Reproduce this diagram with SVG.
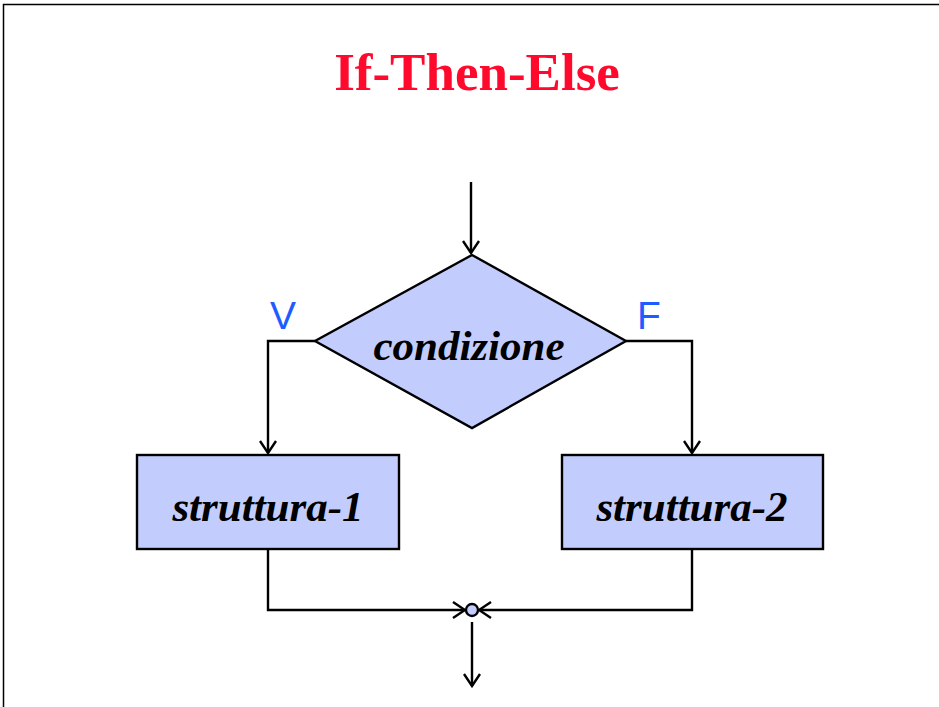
<svg xmlns="http://www.w3.org/2000/svg" width="939" height="707" viewBox="0 0 939 707">
  <style>
    .shape { fill: #c3cdfd; stroke: #000; stroke-width: 2.4; }
    .lbl { font-family: "Liberation Serif", "Times New Roman", serif; font-weight: bold; font-style: italic; font-size: 43px; fill: #000; text-anchor: middle; }
    .vf { font-family: "Liberation Sans", Arial, sans-serif; font-size: 39px; fill: #1f5cff; text-anchor: middle; }
    .conn { fill: none; stroke: #000; stroke-width: 2.4; }
  </style>
  <defs>
    <marker id="arr" markerUnits="userSpaceOnUse" markerWidth="16" markerHeight="20" viewBox="0 0 16 20" refX="14" refY="10" orient="auto">
      <path d="M2,2 L14,10 L2,18" fill="none" stroke="#000" stroke-width="2.4"/>
    </marker>
  </defs>
  <rect width="939" height="707" fill="#fff"/>
  <path d="M3.5,707 V4.5 H939" fill="none" stroke="#000" stroke-width="1.5"/>
  <text x="477" y="90" font-family="Liberation Serif, 'Times New Roman', serif" font-weight="bold" font-size="53" fill="#ff0a2d" text-anchor="middle">If-Then-Else</text>

  <g id="connectors">
    <path class="conn" d="M471,182 V253" marker-end="url(#arr)"/>
    <path class="conn" d="M315,341 H268 V453" marker-end="url(#arr)"/>
    <path class="conn" d="M626,341 H692 V453" marker-end="url(#arr)"/>
    <path class="conn" d="M268,549 V610 H465" marker-end="url(#arr)"/>
    <path class="conn" d="M692,549 V610 H479" marker-end="url(#arr)"/>
    <path class="conn" d="M472,622 V686" marker-end="url(#arr)"/>
  </g>

  <g id="labels">
    <text class="vf" x="283" y="329">V</text>
    <text class="vf" x="649" y="329">F</text>
  </g>

  <g id="condizione">
    <polygon class="shape" points="472,255 626,341 472,428 315,341"/>
    <text class="lbl" x="469" y="360">condizione</text>
  </g>

  <g id="struttura-1">
    <rect class="shape" x="137" y="455" width="262" height="94"/>
    <text class="lbl" x="268" y="521">struttura-1</text>
  </g>

  <g id="struttura-2">
    <rect class="shape" x="562" y="455" width="261" height="94"/>
    <text class="lbl" x="692" y="521">struttura-2</text>
  </g>

  <g id="join">
    <circle class="shape" cx="472" cy="610" r="6"/>
  </g>
</svg>
